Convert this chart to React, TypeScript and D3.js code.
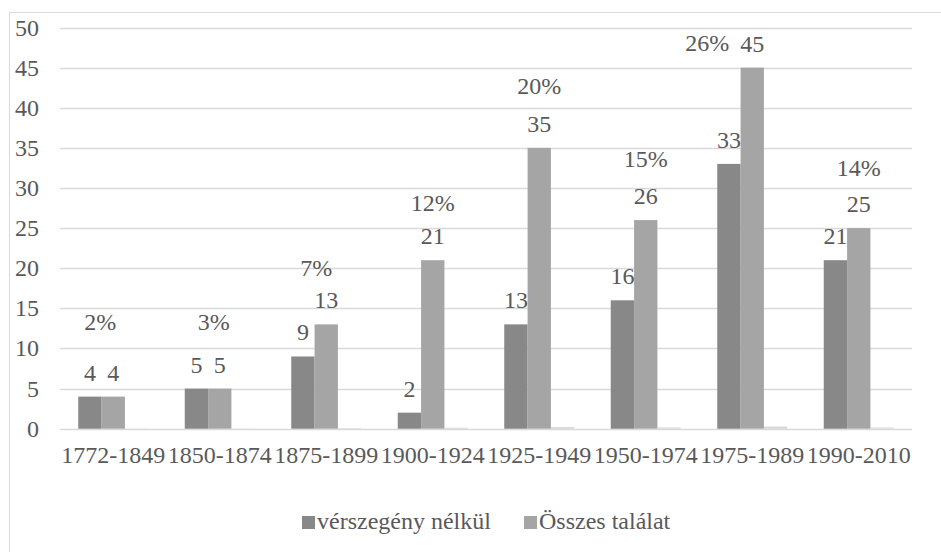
import React from 'react'
import * as d3 from 'd3'

const categories = [
  '1772-1849',
  '1850-1874',
  '1875-1899',
  '1900-1924',
  '1925-1949',
  '1950-1974',
  '1975-1989',
  '1990-2010',
]
const withoutAnemia = [4, 5, 9, 2, 13, 16, 33, 21] // vérszegény nélkül
const allHits = [4, 5, 13, 21, 35, 26, 45, 25] // Összes találat
const shares = [0.02, 0.03, 0.07, 0.12, 0.2, 0.15, 0.26, 0.14] // third series, labelled as %
const yTicks = [0, 5, 10, 15, 20, 25, 30, 35, 40, 45, 50]

// where the % labels were dragged to (value units for height, px shift from the light bar)
const shareLabelY = [13.3, 13.3, 20, 28.1, 42.7, 33.6, 48.1, 32.5]
const shareLabelShift = [-13, -6, -10, 0, 0, 0, -45, 0]

const W = 941
const H = 552
const plot = { left: 60, right: 912, top: 27.5, bottom: 428.7 }
const FONT = "'Liberation Serif', LiberationSerif, Tinos, 'DejaVu Serif', serif"
const TEXT = '#595959'
const GRID = '#d9d9d9'
const colors = ['#888888', '#a5a5a5', '#d6d6d6']

const App: React.FC = () => {
  const x0 = d3.scaleBand<string>().domain(categories).range([plot.left, plot.right])
  const x1 = d3
    .scaleBand<number>()
    .domain([0, 1, 2])
    .range([0, x0.bandwidth()])
    .paddingInner(0)
    .paddingOuter(0.782)
  const y = d3.scaleLinear().domain([0, 50]).range([plot.bottom, plot.top])

  const series = [withoutAnemia, allHits, shares]
  const txt = { fontFamily: FONT, fontSize: 24, fill: TEXT }

  return (
    <svg
      width={W}
      height={H}
      style={{ position: 'absolute', left: 0, top: 0, display: 'block', background: '#fff', fontFamily: FONT }}
    >
      {/* chart area frame (only left/top edges fall inside the picture) */}
      <line x1={9.5} y1={12.5} x2={W} y2={12.5} stroke={GRID} strokeWidth={1} />
      <line x1={9.5} y1={12.5} x2={9.5} y2={H} stroke={GRID} strokeWidth={1} />

      {yTicks.map(t => (
        <g key={t}>
          <line
            x1={plot.left}
            x2={plot.right}
            y1={Math.round(y(t)) + 0.5}
            y2={Math.round(y(t)) + 0.5}
            stroke={GRID}
            strokeWidth={1.3}
          />
          <text x={39} y={y(t) + 8} textAnchor="end" style={txt}>
            {t}
          </text>
        </g>
      ))}

      {categories.map((c, i) => {
        const bx = x0(c)!
        return (
          <g key={c}>
            {series.map((vals, s) => (
              <rect
                key={s}
                x={bx + x1(s)!}
                y={y(vals[i])}
                width={x1.bandwidth()}
                height={y(0) - y(vals[i])}
                fill={colors[s]}
              />
            ))}
            {[0, 1].map(s => (
              <text
                key={s}
                x={bx + x1(s)! + x1.bandwidth() / 2}
                y={y(series[s][i]) - 16}
                textAnchor="middle"
                style={txt}
              >
                {series[s][i]}
              </text>
            ))}
            <text
              x={bx + x1(1)! + x1.bandwidth() / 2 + shareLabelShift[i]}
              y={y(shareLabelY[i]) + 8}
              textAnchor="middle"
              style={txt}
            >
              {d3.format('.0%')(shares[i])}
            </text>
            <text x={bx + x0.bandwidth() / 2} y={463} textAnchor="middle" style={txt}>
              {c}
            </text>
          </g>
        )
      })}

      {/* legend */}
      <g>
        <rect x={302} y={516} width={13} height={13} fill={colors[0]} />
        <text x={317} y={529} style={txt}>
          vérszegény nélkül
        </text>
        <rect x={524} y={516} width={13} height={13} fill={colors[1]} />
        <text x={539} y={529} style={txt}>
          Összes találat
        </text>
      </g>
    </svg>
  )
}

export default App
